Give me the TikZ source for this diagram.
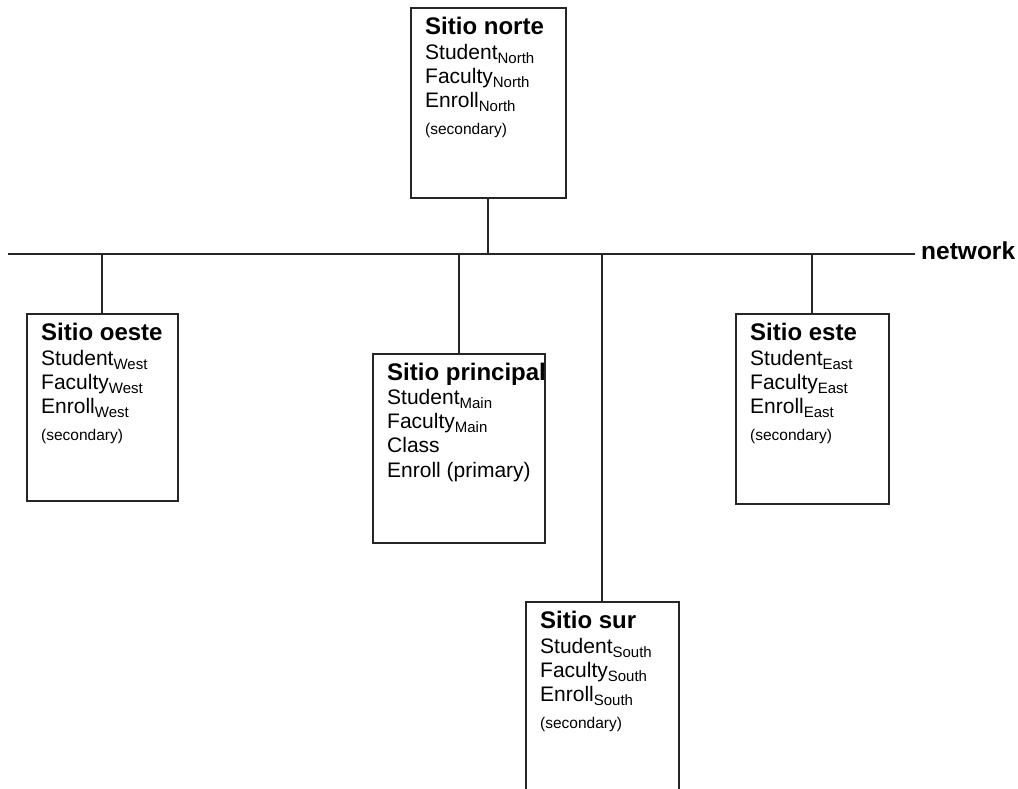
\documentclass[tikz,border=0pt]{standalone}
\usepackage{fontspec}
\setmainfont{Liberation Sans}
\usepackage{tikz}
\usetikzlibrary{positioning}
\newcommand{\sitesub}[1]{\raisebox{-4pt}{\fontsize{15}{15}\selectfont #1}}
\newcommand{\sitehead}[1]{{\bfseries\fontsize{24}{24}\selectfont #1}}
\newcommand{\sitenote}[1]{{\fontsize{15.5}{15.5}\selectfont #1}}
\tikzset{
  site/.style={draw=black!85, line width=1.5pt, fill=white, anchor=north west,
               inner sep=0pt},
  sitetxt/.style={anchor=north west, align=left, inner sep=0pt,
                  font=\fontsize{21}{24}\selectfont},
  bus/.style={draw=black!85, line width=2.4pt},
  netlbl/.style={font=\bfseries\fontsize{24.5}{24.5}\selectfont, anchor=base west,
                 inner sep=0pt},
}
\begin{document}
\begin{tikzpicture}[x=1pt, y=-1pt]
  \useasboundingbox (0,0) rectangle (1018,788);
  \clip (0,0) rectangle (1018,788);
  \coordinate (net) at (8,254);
  \node[netlbl] (netname) at (921,259) {network};
  \coordinate (netend) at (915,254);

  \node[site, minimum width=155pt, minimum height=190pt] (north) at (410,7) {};
  \node[site, minimum width=151pt, minimum height=187pt] (west) at (26,313) {};
  \node[site, minimum width=172pt, minimum height=189pt] (main) at (372,353) {};
  \node[site, minimum width=153pt, minimum height=190pt] (east) at (735,313) {};
  \node[site, minimum width=153pt, minimum height=220pt] (south) at (525,601) {};

  \node[sitetxt] (northtxt) at ([shift={(15,10)}]north.north west)
    {\sitehead{Sitio norte}\\[1pt] Student\sitesub{North}\\ Faculty\sitesub{North}\\
     Enroll\sitesub{North}\\[3pt] \sitenote{(secondary)}};
  \node[sitetxt] (westtxt) at ([shift={(15,10)}]west.north west)
    {\sitehead{Sitio oeste}\\[1pt] Student\sitesub{West}\\ Faculty\sitesub{West}\\
     Enroll\sitesub{West}\\[3pt] \sitenote{(secondary)}};
  \node[sitetxt] (maintxt) at ([shift={(15,10)}]main.north west)
    {\sitehead{Sitio principal}\\ Student\sitesub{Main}\\ Faculty\sitesub{Main}\\
     Class\\[1pt] Enroll (primary)};
  \node[sitetxt] (easttxt) at ([shift={(15,10)}]east.north west)
    {\sitehead{Sitio este}\\[1pt] Student\sitesub{East}\\ Faculty\sitesub{East}\\
     Enroll\sitesub{East}\\[3pt] \sitenote{(secondary)}};
  \node[sitetxt] (southtxt) at ([shift={(15,10)}]south.north west)
    {\sitehead{Sitio sur}\\[1pt] Student\sitesub{South}\\ Faculty\sitesub{South}\\
     Enroll\sitesub{South}\\[3pt] \sitenote{(secondary)}};

  \draw[bus] (net) -- (netend);
  \draw[bus] (north.south) -- (north.south |- net);
  \draw[bus] (west.north) -- (west.north |- net);
  \draw[bus] (main.north) -- (main.north |- net);
  \draw[bus] (east.north) -- (east.north |- net);
  \draw[bus] (south.north) -- (south.north |- net);
\end{tikzpicture}
\end{document}
